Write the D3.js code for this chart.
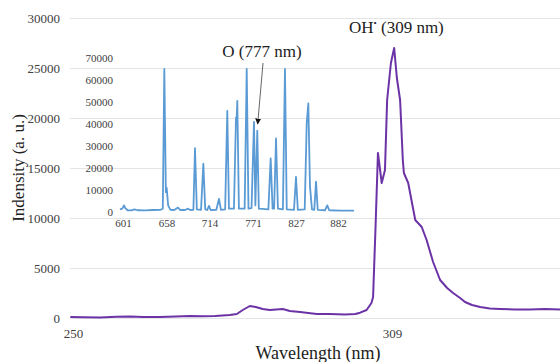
<!DOCTYPE html>
<html>
<head>
<meta charset="utf-8">
<script src="https://cdn.jsdelivr.net/npm/d3@7"></script>
<style>
  body { margin: 0; background: #fff; }
  text { font-family: 'Liberation Serif', 'Times New Roman', serif; }
</style>
</head>
<body>
<div class="canvas"></div>
<script>
// main spectrum (OH band)
const mainWl = [249.5, 252, 255, 258, 260.5, 263, 266, 269, 271.6, 274, 276.3, 279, 280.3, 281.4, 282.7, 283.8,
  285.1, 286.4, 287.6, 288.8, 290.1, 292, 293.5, 295.1, 297.5, 300.3, 302.2, 303.1, 304.3, 305.2, 305.5, 305.95,
  306.4, 307.1, 307.7, 308.1, 308.8, 309.4, 309.9, 310.5, 311.0, 311.2, 312.0, 313.3, 314.5, 315.4, 316.6, 317.9,
  319.2, 320.3, 321.6, 322.5, 323.8, 325.3, 327.1, 329, 331.7, 334.5, 337.3, 340.1]
const mainInt = [100, 80, 50, 120, 150, 100, 100, 150, 200, 180, 200, 300, 400, 800, 1200, 1100,
  900, 800, 850, 900, 700, 600, 500, 400, 400, 350, 400, 530, 800, 1500, 2100, 9000,
  16500, 13500, 14800, 21800, 25500, 27000, 24000, 21800, 15800, 14500, 13500, 9800, 9100, 7800, 5600, 3800,
  3000, 2500, 2000, 1600, 1300, 1100, 950, 900, 850, 850, 900, 850]
const mainYTicks = [0, 5000, 10000, 15000, 20000, 25000, 30000]
const mainXTicks = [250, 309]

// inset spectrum (600-900 nm)
const insetWl = [597, 600, 602.3, 604, 607, 612, 616, 620, 630, 640, 650, 653, 655, 657, 658.1, 660, 663, 668,
  672.9, 676, 682, 686, 689, 693, 695.1, 697.5, 703, 706, 708.5, 711, 713.4, 715.5, 723, 726.5, 729, 734.5,
  737.3, 739.5, 746, 748.7, 749.3, 750.4, 752.5, 760, 762.7, 765, 769, 772.2, 774, 776.5, 778.5, 791, 794,
  796.5, 798.5, 801, 803.5, 810, 812.7, 815, 824.5, 827.1, 829.5, 838.5, 841.1, 843.2, 845.4, 848, 851,
  853.3, 855.5, 865, 868, 870.5, 885, 903]
const insetInt = [1200, 1500, 3000, 1800, 800, 700, 1200, 800, 700, 900, 1000, 1500, 65000, 9000, 11000, 3000, 1000, 900,
  2000, 900, 900, 1500, 900, 1000, 29000, 1200, 1000, 22000, 1200, 900, 2800, 900, 1000, 6000, 1000, 1200,
  46000, 1500, 1500, 43000, 40000, 50500, 1500, 1500, 65000, 1500, 1800, 41000, 3000, 37000, 1500, 1200, 24400,
  1500, 1500, 33500, 1500, 1200, 65000, 1200, 1000, 16000, 1000, 1200, 40300, 49400, 11500, 1200, 1000,
  13800, 1000, 800, 3000, 800, 600, 600]
const insetYTicks = [0, 10000, 20000, 30000, 40000, 50000, 60000, 70000]
const insetXTicks = [601, 658, 714, 771, 827, 882]

const serif = "'Liberation Serif', 'Times New Roman', serif"

const svg = d3.select('.canvas').append('svg')
  .attr('width', 560)
  .attr('height', 362)

svg.append('rect').attr('width', 560).attr('height', 362).attr('fill', '#fff')

const left = 70
const right = 560

// style tick text the same way everywhere
const tickText = (g, size) => {
  g.select('.domain').remove()
  g.attr('font-family', null)
  g.selectAll('text')
    .style('font-family', serif)
    .attr('font-size', size)
    .attr('fill', '#404040')
}

// main scales
const x = d3.scaleLinear().domain([250, 309]).range([73, 392])
const y = d3.scaleLinear().domain([0, 30000]).range([318, 18])

// gridlines
svg.append('g')
  .attr('transform', `translate(${left},0)`)
  .call(d3.axisLeft(y).tickValues(mainYTicks).tickSize(-(right - left)).tickFormat(''))
  .call(g => g.select('.domain').remove())
  .call(g => g.selectAll('line').attr('stroke', '#e4e4e4'))

svg.append('g')
  .attr('transform', `translate(${left},0)`)
  .call(d3.axisLeft(y).tickValues(mainYTicks).tickFormat(d3.format('d')).tickSize(0).tickPadding(10))
  .call(g => tickText(g, 13))

svg.append('g')
  .attr('transform', 'translate(0,318)')
  .call(d3.axisBottom(x).tickValues(mainXTicks).tickFormat(d3.format('d')).tickSize(0).tickPadding(11))
  .call(g => tickText(g, 13))

// inset scales
const xi = d3.scaleLinear().domain([601, 882]).range([123, 338])
const yi = d3.scaleLinear().domain([0, 70000]).range([212, 58])

svg.append('g')
  .attr('transform', 'translate(119,0)')
  .call(d3.axisLeft(yi).tickValues(insetYTicks).tickFormat(d3.format('d')).tickSize(0).tickPadding(6))
  .call(g => tickText(g, 11))

svg.append('g')
  .attr('transform', 'translate(0,212)')
  .call(d3.axisBottom(xi).tickValues(insetXTicks).tickFormat(d3.format('d')).tickSize(0).tickPadding(7))
  .call(g => tickText(g, 11))

// lines
const mainData = mainWl.map((w, i) => ({ wl: w, v: mainInt[i] }))
const insetData = insetWl.map((w, i) => ({ wl: w, v: insetInt[i] }))

svg.append('path')
  .datum(insetData)
  .attr('fill', 'none')
  .attr('stroke', '#5b9bd5')
  .attr('stroke-width', 1.8)
  .attr('stroke-linejoin', 'round')
  .attr('d', d3.line().x(d => xi(d.wl)).y(d => yi(d.v)))

svg.append('path')
  .datum(mainData)
  .attr('fill', 'none')
  .attr('stroke', '#6c33a6')
  .attr('stroke-width', 2)
  .attr('stroke-linejoin', 'round')
  .attr('d', d3.line().x(d => x(d.wl)).y(d => y(d.v)))

// axis titles
svg.append('text')
  .attr('x', 318).attr('y', 359)
  .attr('text-anchor', 'middle')
  .attr('font-size', 18)
  .attr('fill', '#222')
  .text('Wavelength (nm)')

svg.append('text')
  .attr('transform', 'translate(24,168) rotate(-90)')
  .attr('text-anchor', 'middle')
  .attr('font-size', 17)
  .attr('fill', '#222')
  .text('Indensity (a. u.)')

// annotations
const oh = svg.append('text')
  .attr('x', 349).attr('y', 33)
  .attr('font-size', 17)
  .attr('fill', '#222')
oh.append('tspan').text('OH')
oh.append('tspan').attr('font-size', 9).attr('dy', -7).text('•')
oh.append('tspan').attr('dy', 7).text(' (309 nm)')

svg.append('text')
  .attr('x', 262).attr('y', 57)
  .attr('text-anchor', 'middle')
  .attr('font-size', 17)
  .attr('fill', '#222')
  .text('O (777 nm)')

svg.append('defs').append('marker')
  .attr('id', 'arrow')
  .attr('viewBox', '0 0 10 10')
  .attr('refX', 9).attr('refY', 5)
  .attr('markerWidth', 6).attr('markerHeight', 6)
  .attr('orient', 'auto')
  .append('path')
  .attr('d', 'M0,0 L10,5 L0,10 z')
  .attr('fill', '#111')

svg.append('line')
  .attr('x1', xi(784)).attr('y1', 63)
  .attr('x2', xi(777)).attr('y2', yi(40000))
  .attr('stroke', '#666')
  .attr('stroke-width', 1)
  .attr('marker-end', 'url(#arrow)')
</script>
</body>
</html>
